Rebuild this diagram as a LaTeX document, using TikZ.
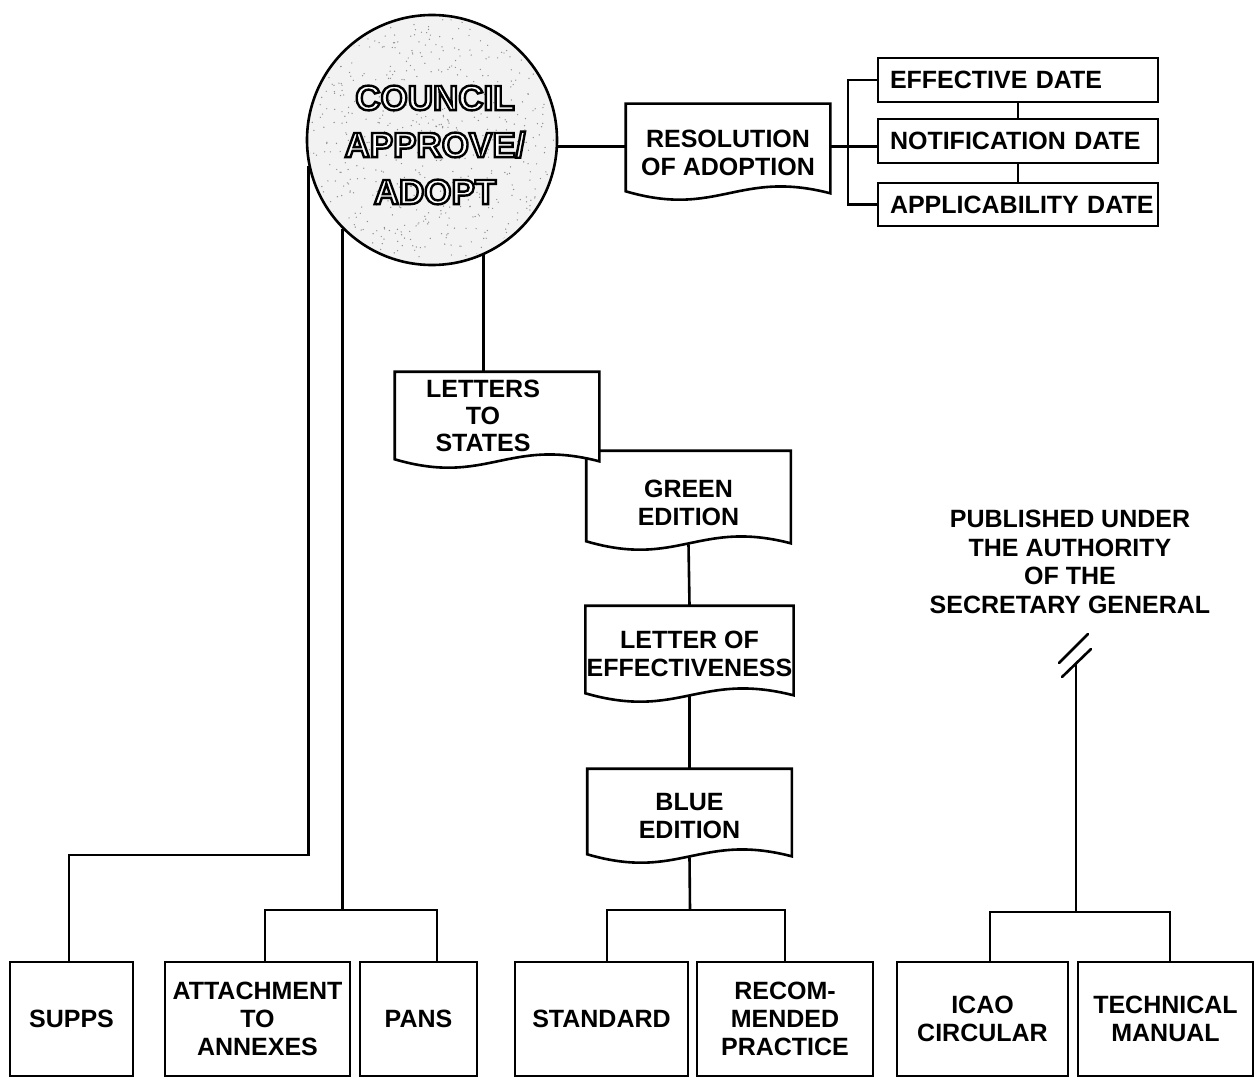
\documentclass[tikz,border=0pt]{standalone}
\usepackage{fontspec}
\setmainfont{Liberation Sans}
\usetikzlibrary{calc}
\newcommand\outlinetext[1]{\special{pdf:literal direct 2 Tr 2.4 w 0 G}#1\special{pdf:literal direct 0 Tr}}
\begin{document}
\begin{tikzpicture}[x=1pt,y=-1pt,
  line width=2.6pt,
  ln/.style={draw, line width=2.6pt},
  every node/.style={font=\fontsize{25}{28}\selectfont\bfseries, align=center, inner sep=0pt},
  doc/.style={minimum width=202pt},
  leaf/.style={draw, line width=2.6pt, minimum height=114pt},
  datebox/.style={draw, line width=2.6pt, text width=280pt, align=left, minimum height=44pt},
  circtext/.style={font=\fontsize{35}{47}\selectfont\bfseries},
  wave/.style={draw, fill=white, line width=2.6pt},
]
\useasboundingbox (0,0) rectangle (1260,1078);

% council circle
\node[circle, draw, line width=2.6pt, fill=black!5, minimum size=250pt] (council) at (432,140) {};
\begin{scope}
  \pgfmathsetseed{7}
  \clip (432,140) circle (122pt);
  \foreach \i in {1,...,700}
    \fill[black!45] ($(council.center)+(rnd*250-125,rnd*250-125)$) circle (0.7pt);
\end{scope}
\node[circtext, text=white] (ctext) at (435,145) {\outlinetext{COUNCIL}\\\outlinetext{APPROVE/}\\\outlinetext{ADOPT}};

% resolution and dates
\path[wave] node[doc, minimum height=81pt] (res) at (728,152.5) {RESOLUTION\\OF ADOPTION}
  ($(res.south west)+(0,-3)$)
  .. controls ($(res.south west)!0.45!(res.south east)+(0,24)$)
  and ($(res.south west)!0.55!(res.south east)+(0,-25)$)
  .. ($(res.south east)+(0,-1)$) -- ($(res.north east)+(0,-7)$) -- ($(res.north west)+(0,-7)$) -- cycle;
\node[datebox] (eff) at (1018,80) {\hspace*{12pt}EFFECTIVE DATE};
\node[datebox] (notif) at (1018,141) {\hspace*{12pt}NOTIFICATION DATE};
\node[datebox, minimum height=43pt] (app) at (1018,204.5) {\hspace*{12pt}APPLICABILITY DATE};
\coordinate (brk) at (848,0);

% documents chain
\path[wave] node[doc, minimum height=81pt] (green) at (688.5,502.5) {GREEN\\EDITION}
  ($(green.south west)+(0,-3)$)
  .. controls ($(green.south west)!0.45!(green.south east)+(0,24)$)
  and ($(green.south west)!0.55!(green.south east)+(0,-25)$)
  .. ($(green.south east)+(0,-1)$) -- ($(green.north east)+(0,-10)$) -- ($(green.north west)+(0,-10)$) -- cycle;
\path[wave] node[doc, minimum height=84pt] (letters) at (497,419) {\begin{tabular}{@{}c@{}}LETTERS\\[-1pt]TO\\[-1pt]STATES\end{tabular}\hspace*{28pt}}
  ($(letters.south west)+(0,-3)$)
  .. controls ($(letters.south west)!0.45!(letters.south east)+(0,24)$)
  and ($(letters.south west)!0.55!(letters.south east)+(0,-25)$)
  .. ($(letters.south east)+(0,-1)$) -- ($(letters.north east)+(0,-4)$) -- ($(letters.north west)+(0,-4)$) -- cycle;
\path[wave] node[doc, minimum height=83pt] (leff) at (689.5,653.5) {LETTER OF\\EFFECTIVENESS}
  ($(leff.south west)+(0,-3)$)
  .. controls ($(leff.south west)!0.45!(leff.south east)+(0,24)$)
  and ($(leff.south west)!0.55!(leff.south east)+(0,-25)$)
  .. ($(leff.south east)+(0,-1)$) -- ($(leff.north east)+(0,-5)$) -- ($(leff.north west)+(0,-5)$) -- cycle;
\path[wave] node[doc, minimum height=80pt] (blue) at (689.5,816) {BLUE\\EDITION}
  ($(blue.south west)+(0,-3)$)
  .. controls ($(blue.south west)!0.45!(blue.south east)+(0,24)$)
  and ($(blue.south west)!0.55!(blue.south east)+(0,-25)$)
  .. ($(blue.south east)+(0,-1)$) -- ($(blue.north east)+(0,-6)$) -- ($(blue.north west)+(0,-6)$) -- cycle;

% bottom boxes
\node[leaf, minimum width=123pt] (supps) at (71.5,1019) {SUPPS};
\node[leaf, minimum width=185pt] (att) at (257.5,1019) {ATTACHMENT\\TO\\ANNEXES};
\node[leaf, minimum width=117pt] (pans) at (418.5,1019) {PANS};
\node[leaf, minimum width=173pt] (std) at (601.5,1019) {STANDARD};
\node[leaf, minimum width=176pt] (rec) at (785,1019) {RECOM-\\MENDED\\PRACTICE};
\node[leaf, minimum width=171pt] (icao) at (982.5,1019) {ICAO\\CIRCULAR};
\node[leaf, minimum width=175pt] (tech) at (1165.5,1019) {TECHNICAL\\MANUAL};

% published note
\node[font=\fontsize{25}{28.5}\selectfont\bfseries] (pub) at (1070,562) {PUBLISHED UNDER\\THE AUTHORITY\\OF THE\\SECRETARY GENERAL};

\coordinate (j1) at (310,855);
\coordinate (j2) at (345,910);
\coordinate (j3) at (690,910);
\coordinate (j4) at (1076,912);
\coordinate (s0) at (1076,663);

% connectors from the council
\draw[ln] (council.192.56) -- (council.192.56 |- j1) -| ([xshift=-2.5pt]supps.north);
\draw[ln] (council.225.9) -- (council.225.9 |- j2);
\draw[ln] (council.294.1) -- ($(council.294.1 |- letters.north)+(0,-4)$);
\draw[ln] (council.357.2) -- (council.357.2 -| res.west);

\draw[ln] (eff.west) -- (eff.west -| brk) -- (app.west -| brk) -- (app.west);
\draw[ln] (council.357.2 -| res.east) -- (council.357.2 -| notif.west);
\draw[ln] (eff.south) -- (notif.north);
\draw[ln] (notif.south) -- (app.north);
\draw[ln] (green.south) -- ($(leff.north)+(0,-5)$);
\draw[ln] (leff.south) -- ($(blue.north)+(0,-6)$);
\draw[ln] ([xshift=7.5pt]att.north) |- (j2) -| ([xshift=18.5pt]pans.north);
\draw[ln] (blue.south) -- (j3);
\draw[ln] ([xshift=5.5pt]std.north) |- (j3) -| (rec.north);
\draw[ln] (s0) -- (j4);
\draw[ln] ([xshift=7.5pt]icao.north) |- (j4) -| ([xshift=4.5pt]tech.north);
\draw[ln, line cap=round] (1059,663) -- (1088,634);
\draw[ln, line cap=round] (1062,677) -- (1091,649);
\end{tikzpicture}
\end{document}
